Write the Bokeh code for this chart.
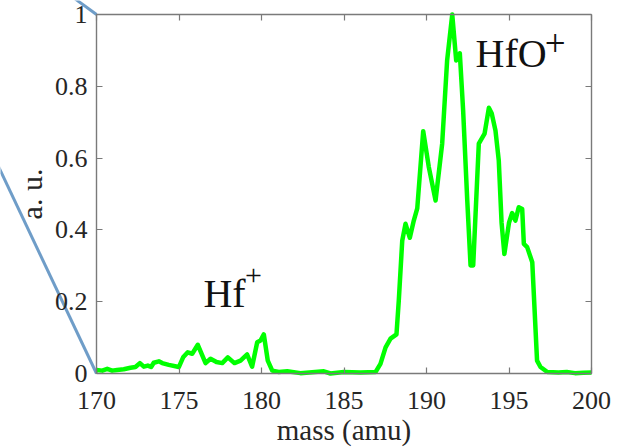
from bokeh.plotting import figure
from bokeh.models import Range1d, LinearAxis, FixedTicker
from bokeh.embed import file_html
from bokeh.resources import INLINE
from bokeh.core.properties import value

# ---- data ----
MASS = [170.0, 170.35, 170.65, 170.95, 171.25, 171.65, 172.06, 172.36, 172.63, 172.87,
        173.11, 173.31, 173.47, 173.78, 173.98, 174.38, 174.99, 175.25, 175.53, 175.80,
        176.14, 176.61, 176.91, 177.27, 177.62, 177.96, 178.36, 178.73, 179.13, 179.43,
        179.74, 179.94, 180.14, 180.38, 180.65, 181.05, 181.56, 182.36, 183.78, 184.18,
        184.99, 186.0, 186.91, 187.21, 187.52, 187.82, 188.18, 188.32, 188.53, 188.73,
        188.99, 189.23, 189.44, 189.80, 190.14, 190.55, 190.95, 191.25, 191.56, 191.80,
        192.02, 192.22, 192.47, 192.67, 192.83, 193.17, 193.52, 193.78, 193.95, 194.18,
        194.38, 194.55, 194.72, 195.0, 195.19, 195.39, 195.59, 195.80, 195.90, 196.10,
        196.41, 196.70, 196.91, 197.32, 198.0, 198.5, 199.0, 199.5, 200.0]
SIGNAL = [0.010, 0.008, 0.013, 0.008, 0.010, 0.012, 0.016, 0.018, 0.029, 0.019,
          0.022, 0.018, 0.030, 0.034, 0.029, 0.024, 0.018, 0.045, 0.059, 0.055,
          0.080, 0.029, 0.041, 0.032, 0.029, 0.045, 0.029, 0.036, 0.053, 0.019,
          0.087, 0.092, 0.109, 0.036, 0.008, 0.004, 0.006, 0.001, 0.006, 0.000,
          0.004, 0.003, 0.004, 0.027, 0.073, 0.097, 0.109, 0.203, 0.370, 0.417,
          0.378, 0.426, 0.460, 0.675, 0.575, 0.482, 0.640, 0.872, 1.000, 0.872,
          0.892, 0.733, 0.482, 0.301, 0.301, 0.640, 0.668, 0.740, 0.725, 0.677,
          0.593, 0.420, 0.333, 0.420, 0.447, 0.426, 0.463, 0.458, 0.361, 0.352,
          0.310, 0.036, 0.018, 0.004, 0.003, 0.004, 0.001, 0.002, 0.003]

X_MIN, X_MAX = 170, 200
Y_MIN, Y_MAX = 0, 1
X_TICKS = [170, 175, 180, 185, 190, 195, 200]
X_TICK_LABELS = ["170", "175", "180", "185", "190", "195", "200"]
Y_TICKS = [0, 0.2, 0.4, 0.6, 0.8, 1]
Y_TICK_LABELS = ["0", "0.2", "0.4", "0.6", "0.8", "1"]
X_LABEL = "mass (amu)"
Y_LABEL = "a. u."
ION_NAMES = ["Hf", "HfO"]
ION_CHARGES = ["+", "+"]

# ---- layout (pixels) ----
W, H = 625, 448
BOX_L, BOX_R, BOX_T, BOX_B = 96, 591, 14, 373

# ---- annotation placement (data coordinates) ----
ION_X = [176.48, 192.97]
ION_Y = [0.223, 0.892]
CHARGE_X = [179.0, 197.17]
CHARGE_Y = [0.272, 0.92]
CHARGE_SIZES = ["30px", "37px"]
CONNECTOR_LOW_X = [170, 162.0]
CONNECTOR_LOW_Y = [0, 0.776]
CONNECTOR_HIGH_X = [170, 165.0]
CONNECTOR_HIGH_Y = [1, 1.168]

FONT = "Liberation Serif"
AXIS_GREY = "#7a7a7a"
TEXT_DARK = "#262626"

sx = (BOX_R - BOX_L) / (X_MAX - X_MIN)
sy = (BOX_B - BOX_T) / (Y_MAX - Y_MIN)
x_range = Range1d(X_MIN - BOX_L / sx, X_MAX + (W - BOX_R) / sx)
y_range = Range1d(Y_MIN - (H - BOX_B) / sy, Y_MAX + BOX_T / sy)

p = figure(width=W, height=H, output_backend="svg", toolbar_location=None,
           title=None, x_range=x_range, y_range=y_range,
           x_axis_type=None, y_axis_type=None,
           min_border=0, min_border_left=0, min_border_right=0,
           min_border_top=0, min_border_bottom=0)
p.outline_line_color = None
p.background_fill_color = "white"
p.border_fill_color = "white"

xt = FixedTicker(ticks=X_TICKS)
yt = FixedTicker(ticks=Y_TICKS)


def style(ax):
    ax.axis_line_color = AXIS_GREY
    ax.axis_line_width = 1.4
    ax.major_tick_line_color = AXIS_GREY
    ax.major_tick_line_width = 1.2
    ax.major_tick_in = 6
    ax.major_tick_out = 0
    ax.minor_tick_line_color = None
    ax.major_label_text_font = FONT
    ax.major_label_text_color = TEXT_DARK
    ax.axis_label_text_font = FONT
    ax.axis_label_text_font_style = "normal"
    ax.axis_label_text_color = TEXT_DARK


# connectors (drawn first so axes sit on top)
p.line(CONNECTOR_LOW_X, CONNECTOR_LOW_Y, line_color="#6f9dc8", line_width=3)
p.line(CONNECTOR_HIGH_X, CONNECTOR_HIGH_Y, line_color="#6f9dc8", line_width=3)

bottom = LinearAxis(ticker=xt, axis_label=X_LABEL, fixed_location=Y_MIN,
                    bounds=(X_MIN, X_MAX),
                    major_label_overrides=dict(zip(X_TICKS, X_TICK_LABELS)))
style(bottom)
bottom.major_label_text_font_size = "26px"
bottom.major_label_standoff = 18
bottom.axis_label_text_font_size = "29px"
bottom.axis_label_standoff = 2
p.add_layout(bottom, "below")

left = LinearAxis(ticker=yt, axis_label=Y_LABEL, fixed_location=X_MIN,
                  bounds=(Y_MIN, Y_MAX),
                  major_label_overrides=dict(zip(Y_TICKS, Y_TICK_LABELS)))
style(left)
left.major_label_text_font_size = "26px"
left.major_label_standoff = 9
left.axis_label_text_font_size = "30px"
left.axis_label_standoff = 4
p.add_layout(left, "left")

top = LinearAxis(ticker=xt, fixed_location=Y_MAX, bounds=(X_MIN, X_MAX),
                 major_label_overrides={t: "" for t in X_TICKS})
style(top)
p.add_layout(top, "above")

right = LinearAxis(ticker=yt, fixed_location=X_MAX, bounds=(Y_MIN, Y_MAX),
                   major_label_overrides={t: "" for t in Y_TICKS})
style(right)
p.add_layout(right, "right")

p.line(MASS, SIGNAL, line_color="#00ff00", line_width=4.5, line_join="round")

p.text(x=ION_X, y=ION_Y, text=ION_NAMES, text_font=value(FONT),
       text_font_size="40px", text_color="#111111",
       text_align="left", text_baseline="alphabetic")
p.text(x=CHARGE_X, y=CHARGE_Y, text=ION_CHARGES, text_font=value(FONT),
       text_font_size=CHARGE_SIZES, text_color="#111111",
       text_align="left", text_baseline="alphabetic")

open("out.html", "w").write(file_html(p, INLINE))
